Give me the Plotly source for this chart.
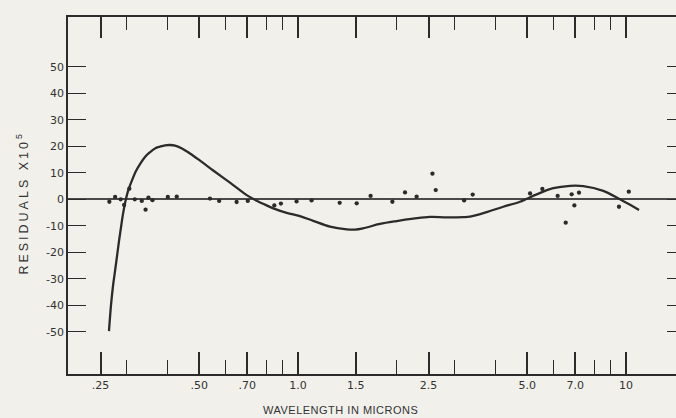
import plotly.graph_objects as go

# ---- data ----
# measured residuals (wavelength in microns, residual x 1e5)
obs_wl = [0.266, 0.277, 0.288, 0.295, 0.306, 0.318, 0.334, 0.343, 0.350, 0.360,
          0.401, 0.427, 0.539, 0.575, 0.650, 0.703, 0.847, 0.887, 0.990, 1.10,
          1.34, 1.51, 1.665, 1.94, 2.12, 2.30, 2.57, 2.63, 3.21, 3.41,
          5.10, 5.56, 6.19, 6.55, 6.83, 6.96, 7.19, 9.52, 10.2]
obs_res = [-0.9, 0.9, 0.0, -2.1, 4.0, 0.0, -0.6, -3.9, 0.6, -0.3,
           0.9, 1.0, 0.3, -0.6, -1.0, -0.6, -2.3, -1.6, -0.8, -0.4,
           -1.3, -1.5, 1.3, -0.9, 2.6, 1.0, 9.7, 3.5, -0.4, 1.8,
           2.2, 3.9, 1.3, -8.8, 1.9, -2.3, 2.5, -2.8, 2.9]

# fitted curve
fit_wl = [0.2653, 0.2691, 0.2729, 0.2768, 0.2807, 0.2847, 0.2887, 0.2928, 0.2970,
          0.3032, 0.3112, 0.3207, 0.3299, 0.3416, 0.3538, 0.3664, 0.3797, 0.3930,
          0.4072, 0.4217, 0.4429, 0.4685, 0.5028, 0.5516, 0.6205, 0.6977, 0.7484,
          0.7931, 0.8409, 0.9237, 1.014, 1.113, 1.252, 1.408, 1.492, 1.582,
          1.778, 2.000, 2.247, 2.526, 2.841, 3.192, 3.345, 3.762, 4.226,
          4.752, 5.343, 6.002, 6.750, 7.411, 8.527, 9.587, 10.96]
fit_res = [-49.7, -39.9, -32.7, -27.1, -21.4, -15.7, -10.5, -5.5, -1.4,
           3.1, 6.9, 10.7, 13.3, 16.0, 17.8, 19.2, 19.9, 20.4,
           20.5, 20.3, 19.2, 17.3, 14.6, 10.9, 6.3, 1.6, -0.5,
           -2.0, -3.4, -5.1, -6.3, -8.1, -10.3, -11.3, -11.4, -10.9,
           -9.3, -8.2, -7.3, -6.6, -6.8, -6.7, -6.5, -4.8, -2.8,
           -0.9, 1.9, 4.2, 5.1, 5.0, 3.2, 0.0, -4.0]

x_major = [0.25, 0.50, 0.70, 1.0, 1.5, 2.5, 5.0, 7.0, 10]
x_major_text = [".25", ".50", ".70", "1.0", "1.5", "2.5", "5.0", "7.0", "10"]
x_minor = [0.3, 0.4, 0.6, 0.8, 0.9, 2, 3, 4, 6, 8, 9]
y_ticks = [-50, -40, -30, -20, -10, 0, 10, 20, 30, 40, 50]
y_text = ["-50", "-40", "-30", "-20", "-10", "0", "10", "20", "30", "40", "50"]

x_range = [-0.7012, 1.1525]
y_range = [-65.9, 68.8]

ink = "#2b2b2b"
txt = "#333333"
bg = "#f2f0eb"
font = "DejaVu Sans"
title_font = "Liberation Sans"

fig = go.Figure()
fig.add_trace(go.Scatter(x=fit_wl, y=fit_res, mode="lines",
                         line=dict(color=ink, width=2.3, shape="spline", smoothing=1.0),
                         showlegend=False, hoverinfo="skip"))
fig.add_trace(go.Scatter(x=obs_wl, y=obs_res, mode="markers",
                         marker=dict(color=ink, size=4.3),
                         showlegend=False))
fig.add_trace(go.Scatter(x=[None], y=[None], xaxis="x2", yaxis="y2",
                         mode="markers", showlegend=False, hoverinfo="skip"))

fig.update_layout(
    width=676, height=418,
    margin=dict(l=68, r=0, t=17, b=44),
    paper_bgcolor=bg, plot_bgcolor=bg,
    font=dict(family=font, color=txt, size=11),
    xaxis=dict(type="log", range=x_range, showgrid=False, zeroline=False,
               showline=True, linecolor=ink, linewidth=1.6,
               ticks="inside", ticklen=22, tickwidth=1.5, tickcolor=ink,
               tickmode="array", tickvals=x_major, ticktext=x_major_text,
               tickfont=dict(size=11, color=txt, family=font),
               minor=dict(tickmode="array", tickvals=x_minor, ticks="inside",
                          ticklen=14, tickwidth=1.3, tickcolor=ink, showgrid=False)),
    yaxis=dict(range=y_range, showgrid=False,
               zeroline=True, zerolinecolor="#4a4a4a", zerolinewidth=1.5,
               showline=True, linecolor=ink, linewidth=1.6,
               ticks="inside", ticklen=18, tickwidth=1.4, tickcolor=ink,
               tickmode="array", tickvals=y_ticks, ticktext=y_text,
               tickfont=dict(size=11, color=txt, family=font)),
    xaxis2=dict(type="log", range=x_range, overlaying="x", side="top",
                showgrid=False, zeroline=False,
                showline=True, linecolor=ink, linewidth=1.6,
                ticks="inside", ticklen=21, tickwidth=1.5, tickcolor=ink,
                tickmode="array", tickvals=x_major, showticklabels=False,
                minor=dict(tickmode="array", tickvals=x_minor, ticks="inside",
                           ticklen=13, tickwidth=1.3, tickcolor=ink, showgrid=False)),
    yaxis2=dict(range=y_range, overlaying="y", side="right", showgrid=False,
                zeroline=False, showline=False,
                ticks="inside", ticklen=9, tickwidth=1.4, tickcolor=ink,
                tickmode="array", tickvals=y_ticks, showticklabels=False),
    annotations=[
        dict(text='<span style="letter-spacing:3px">RESIDUALS X10<sup>5</sup></span>',
             xref="paper", yref="paper",
             x=-0.0757, y=0.48, textangle=-90, showarrow=False,
             xanchor="center", yanchor="middle",
             font=dict(size=12.5, color=txt, family=title_font)),
        dict(text='<span style="letter-spacing:0.5px">WAVELENGTH IN MICRONS</span>',
             xref="paper", yref="paper",
             x=0.449, y=-0.101, showarrow=False,
             xanchor="center", yanchor="middle",
             font=dict(size=11, color=txt, family=title_font)),
    ],
)

fig.write_html("out.html")
